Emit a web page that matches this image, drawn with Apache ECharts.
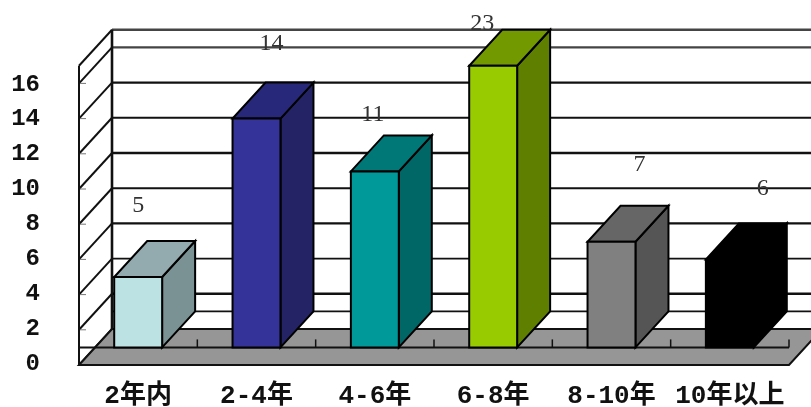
<!DOCTYPE html>
<html><head><meta charset="utf-8">
<style>html,body{margin:0;padding:0;background:#fff}#c{width:811px;height:407px}</style>
<script src="https://cdn.jsdelivr.net/npm/echarts@6/dist/echarts.min.js"></script>
</head><body><div id="c"></div>
<script>
const categories = ['2年内','2-4年','4-6年','6-8年','8-10年','10年以上'];
const values = [5,14,11,23,7,6];
const yTicks = [0,2,4,6,8,10,12,14,16,17];
const axisMin = 0, axisMax = 17, barBase = 1;
const frontColors = ['#BCE2E4','#333399','#009999','#99CC00','#808080','#000000'];
const topColors = ['#93ABAE','#28287A','#007878','#739900','#666666','#000000'];
const sideColors = ['#7A9293','#232366','#006666','#5F7F00','#555555','#000000'];
// hand-placed label nudges in the source chart (px from the default spot)
const labelNudgeX = [0,15,-2,-11,28,33];
const labelNudgeY = [-71,-75,-57,-42,-77,-71];

const DX = 33, DY = -36, INK = '#111', BARW = 0.405;
const chart = echarts.init(document.getElementById('c'), null, {renderer:'canvas'});
const ln = (x1,y1,x2,y2,lw,col) => ({type:'line',shape:{x1,y1,x2,y2},style:{stroke:col||INK,lineWidth:lw||2,fill:null}});
const poly = (points,fill,stroke,lw) => ({type:'polygon',shape:{points},style:{fill,stroke:stroke||'#000',lineWidth:lw||2,lineJoin:'miter'}});

function renderWall(params, api){
  const cs = params.coordSys, v = api.value(1), y = api.coord([0,v])[1];
  const L = cs.x, R = 811;
  const kids = [
    ln(L,y,L+DX,y+DY,2),
    ln(L+DX,y+DY,R,y+DY,v===16||v===17?2.4:(v%4===2?2.4:1.9), v===16||v===17?'#444':INK)
  ];
  if (v!==17 && v!==0) kids.push(ln(L,y,L+7,y,1,'#777'));
  if (v===17){
    const y0 = api.coord([0,axisMin])[1];
    kids.push(ln(L,y,L,y0,2));
    kids.push(ln(L+DX,y+DY,L+DX,y0+DY,2.6));
  }
  return {type:'group',children:kids};
}
function renderFloor(params, api){
  const cs = params.coordSys, L = cs.x, W = cs.width;
  const y0 = api.coord([0,axisMin])[1], y1 = api.coord([0,barBase])[1];
  const kids = [
    ln(L+DX,y1+DY,811,y1+DY,1.9),
    poly([[L,y0],[L+W,y0],[L+W+DX,y0+DY],[L+DX,y0+DY]],'#969696','#111',2),
    ln(L,y1,L+W,y1,2)
  ];
  categories.forEach((c,i)=>{ const x=L+W*(i+1)/categories.length; kids.push(ln(x,y1,x,y1-8,1.5)); });
  return {type:'group',children:kids};
}
function renderBar(params, api){
  const i = api.value(0), v = api.value(1);
  const bw = api.size([1,0])[0]*BARW;
  const c = api.coord([i,Math.min(v,axisMax)]), b = api.coord([i,barBase]);
  const x1 = c[0]-bw/2, x2 = c[0]+bw/2, yt = c[1], yb = b[1];
  return {type:'group',children:[
    poly([[x2,yb],[x2+DX,yb+DY],[x2+DX,yt+DY],[x2,yt]],sideColors[i]),
    poly([[x1,yt],[x2,yt],[x2+DX,yt+DY],[x1+DX,yt+DY]],topColors[i]),
    poly([[x1,yt],[x2,yt],[x2,yb],[x1,yb]],frontColors[i]),
    {type:'text',z2:10,style:{text:String(v),x:c[0]+labelNudgeX[i],y:yt+labelNudgeY[i],
      align:'center',verticalAlign:'middle',font:'24px "Liberation Serif"',fill:'#333'}}
  ]};
}
chart.setOption({
  animation:false,
  backgroundColor:'#fff',
  grid:[
    {left:79,right:22,top:65.8,bottom:42,outerBoundsMode:'none'},
    {left:79,right:22,top:67,bottom:43,outerBoundsMode:'none'}
  ],
  xAxis:[
    {type:'category',data:categories,gridIndex:0,
      axisLine:{show:false},axisTick:{show:false},
      axisLabel:{interval:0,margin:18,color:'#111',fontSize:26,fontWeight:'bold',fontFamily:'"Liberation Mono","Noto Sans CJK SC"'}},
    {type:'category',data:categories,gridIndex:1,show:false}
  ],
  yAxis:[
    {type:'value',gridIndex:0,min:axisMin,max:axisMax,interval:2,
      axisLine:{show:false},axisTick:{show:false},splitLine:{show:false},axisLabel:{show:false}},
    {type:'value',gridIndex:1,min:axisMin,max:axisMax,interval:2,
      axisLine:{show:false},axisTick:{show:false},splitLine:{show:false},
      axisLabel:{showMaxLabel:false,margin:39,color:'#111',fontSize:24,fontWeight:'bold',fontFamily:'"Liberation Mono"'}}
  ],
  series:[
    {type:'custom',name:'wall',z:1,xAxisIndex:0,yAxisIndex:0,renderItem:renderWall,data:yTicks.map(t=>[0,t]),clip:false,silent:true},
    {type:'custom',name:'floor',z:2,xAxisIndex:0,yAxisIndex:0,renderItem:renderFloor,data:[[0,0]],clip:false,silent:true},
    {type:'custom',name:'bars',z:3,xAxisIndex:0,yAxisIndex:0,renderItem:renderBar,data:values.map((v,i)=>[i,v]),clip:false,silent:true}
  ]
});
</script></body></html>
